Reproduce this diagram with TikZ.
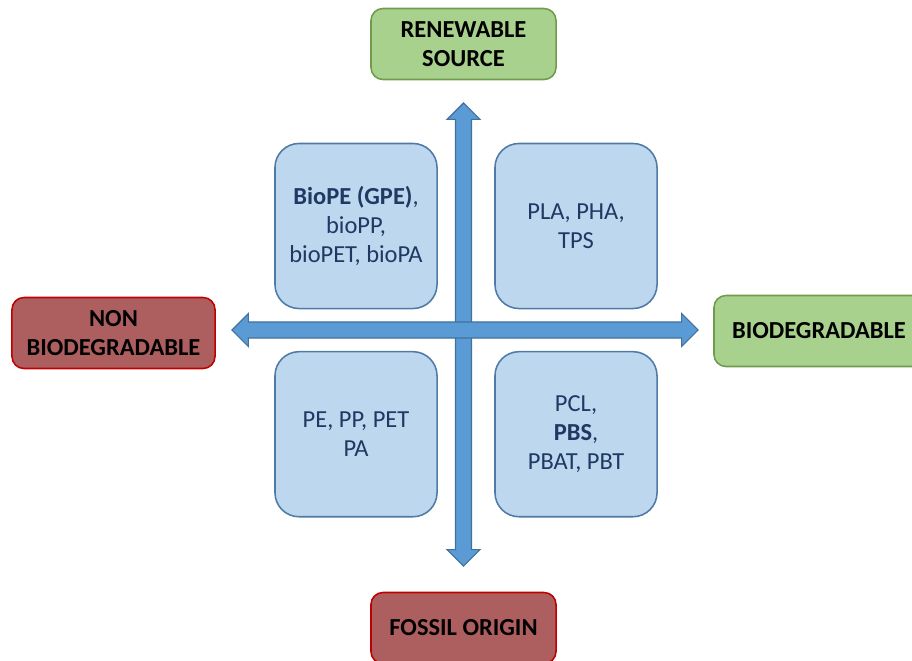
\documentclass[tikz,border=0pt]{standalone}
\usepackage{fontspec}
\setmainfont{Carlito}
\usepackage{xcolor}
\usetikzlibrary{positioning}
\usetikzlibrary{shapes.arrows}
\definecolor{leafgreen}{HTML}{A9D18E}
\definecolor{leafedge}{HTML}{6E9B4C}
\definecolor{rustred}{HTML}{AD5F5F}
\definecolor{rustedge}{HTML}{C00000}
\definecolor{paleblue}{HTML}{BDD7EE}
\definecolor{paleedge}{HTML}{4F7AA6}
\definecolor{axisblue}{HTML}{5B9BD5}
\definecolor{axisedge}{HTML}{41719C}
\definecolor{inktext}{HTML}{1F3864}
\tikzstyle{goal}=[rounded corners=0.3cm, line width=1.1pt, minimum height=1.775cm, inner sep=0pt, align=center, font=\fontsize{17.4}{20.6}\selectfont\bfseries]
\tikzstyle{plusbox}=[goal, fill=leafgreen, draw=leafedge]
\tikzstyle{minusbox}=[goal, fill=rustred, draw=rustedge]
\tikzstyle{polymer}=[rounded corners=0.6cm, fill=paleblue, draw=paleedge, line width=1.1pt, minimum width=4.05cm, minimum height=4.125cm, inner sep=0pt, align=center, text=inktext, font=\fontsize{17.4}{20.6}\selectfont]
\tikzstyle{axis}=[double arrow, fill=axisblue, draw=axisedge, line width=0.8pt, inner xsep=0pt, inner ysep=5.3pt, double arrow head extend=0.21cm]

\begin{document}
\begin{tikzpicture}[x=0.025cm, y=-0.025cm]
    \useasboundingbox (0,0) rectangle (912,660);

    % the two axes
    \node[axis, rotate=90, minimum height=11.575cm] (vaxis) at (463.5,334.5) {};
    \node[axis, minimum height=11.65cm]             (haxis) at (465,330)     {};

    % quadrants
    \node[polymer] (tl) at (356,226)              {\textbf{BioPE (GPE)},\\bioPP,\\bioPET, bioPA};
    \node[polymer] (tr) [right = 1.41cm of tl]  {PLA, PHA,\\TPS};
    \node[polymer] (bl) [below = 1.04cm of tl]  {PE, PP, PET\\PA};
    \node[polymer] (br) [right = 1.41cm of bl]  {PCL,\\\textbf{PBS},\\PBAT, PBT};

    % axis ends
    \node[plusbox, minimum width=4.625cm]  (renew)  at (463.5,44)    {RENEWABLE\\SOURCE};
    \node[plusbox, minimum width=5.25cm]   (biodeg) at (819,331)     {BIODEGRADABLE};
    \node[minusbox, minimum width=5.075cm] (nonbio) at (113.5,333)   {NON\\BIODEGRADABLE};
    \node[minusbox, minimum width=4.625cm] (fossil) at (463.5,628)   {FOSSIL ORIGIN};
\end{tikzpicture}
\end{document}
